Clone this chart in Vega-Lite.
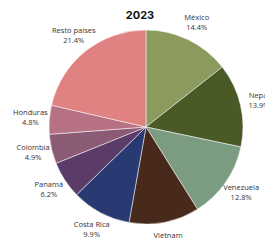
{
  "$schema": "https://vega.github.io/schema/vega-lite/v6.json",
  "width": 238,
  "height": 188,
  "autosize": {"type": "none"},
  "padding": {"left": 27, "top": 33, "right": 0, "bottom": 19},
  "background": "white",
  "title": {"text": "2023", "fontSize": 11, "fontWeight": "bold", "font": "Inter", "color": "#111111", "offset": -7, "anchor": "middle", "frame": "group", "dx": -6},
  "data": {"values": [
    {"pais": "México", "pct": 14.4, "label": "14.4%", "orden": 1},
    {"pais": "Nepal", "pct": 13.9, "label": "13.9%", "orden": 2},
    {"pais": "Venezuela", "pct": 12.8, "label": "12.8%", "orden": 3},
    {"pais": "Vietnam", "pct": 11.7, "label": "11.7%", "orden": 4},
    {"pais": "Costa Rica", "pct": 9.9, "label": "9.9%", "orden": 5},
    {"pais": "Panamá", "pct": 6.2, "label": "6.2%", "orden": 6},
    {"pais": "Colombia", "pct": 4.9, "label": "4.9%", "orden": 7},
    {"pais": "Honduras", "pct": 4.8, "label": "4.8%", "orden": 8},
    {"pais": "Resto países", "pct": 21.4, "label": "21.4%", "orden": 9}
  ]},
  "encoding": {
    "theta": {"field": "pct", "type": "quantitative", "stack": true},
    "order": {"field": "orden", "type": "quantitative"}
  },
  "layer": [
    {
      "mark": {"type": "arc", "outerRadius": 97, "stroke": "#ffffff", "strokeWidth": 0.5},
      "encoding": {
        "color": {
          "field": "pais", "type": "nominal", "legend": null,
          "scale": {
            "domain": ["México", "Nepal", "Venezuela", "Vietnam", "Costa Rica", "Panamá", "Colombia", "Honduras", "Resto países"],
            "range": ["#8b9b5d", "#4a5a27", "#7c9c82", "#472a1b", "#293a73", "#5b3b67", "#8b5a75", "#b67283", "#e08282"]
          }
        }
      }
    },
    {
      "mark": {"type": "text", "radius": 116, "dy": -5, "fontSize": 7.5, "font": "Open Sans", "color": "#333333"},
      "encoding": {"text": {"field": "pais"}}
    },
    {
      "mark": {"type": "text", "radius": 116, "dy": 5, "fontSize": 7.5, "font": "Open Sans", "color": "#333333"},
      "encoding": {"text": {"field": "label"}}
    }
  ]
}
